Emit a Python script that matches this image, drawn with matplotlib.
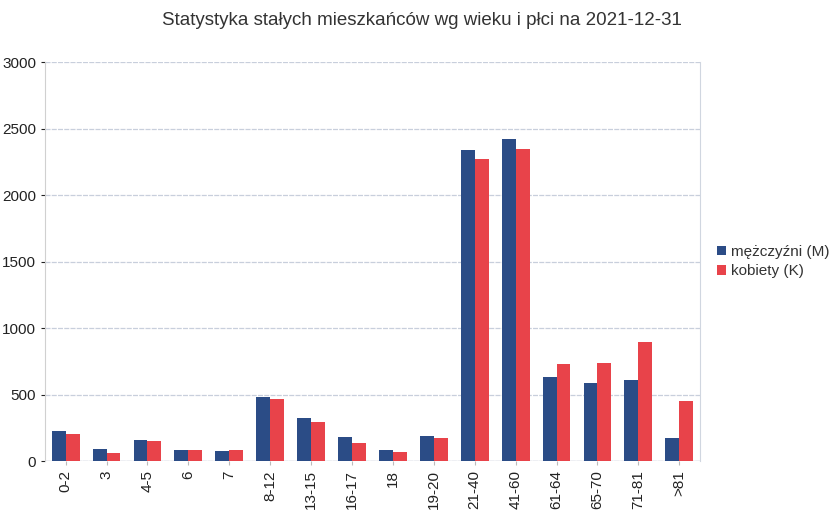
import matplotlib
matplotlib.use("Agg")
import matplotlib.pyplot as plt
import numpy as np

plt.rcParams['font.family'] = ['Liberation Sans', 'DejaVu Sans']

categories = ["0-2", "3", "4-5", "6", "7", "8-12", "13-15", "16-17", "18", "19-20",
              "21-40", "41-60", "61-64", "65-70", "71-81", ">81"]
men = [225, 95, 158, 85, 75, 480, 322, 180, 85, 188, 2340, 2420, 634, 589, 614, 175]
women = [205, 65, 150, 85, 85, 470, 292, 138, 72, 175, 2275, 2350, 730, 737, 893, 451]
series_names = ["mężczyźni (M)", "kobiety (K)"]
title = "Statystyka stałych mieszkańców wg wieku i płci na 2021-12-31"

fig = plt.figure(figsize=(8.36, 5.13), dpi=100)
ax = fig.add_axes([0.054, 0.101, 0.783, 0.778])

x = np.arange(len(categories))
w = 0.34
ax.bar(x - w/2, men, w, color='#2b4c86', label=series_names[0], zorder=3)
ax.bar(x + w/2, women, w, color='#e8434a', label=series_names[1], zorder=3)

ax.set_xlim(-0.5, len(categories) - 0.5)
ax.set_ylim(0, 3000)
ax.set_yticks(range(0, 3001, 500))
ax.set_xticks(x)
ax.set_xticklabels(categories, rotation=90, fontsize=11, color='#222222')
ax.tick_params(axis='y', labelsize=11, colors='#222222', length=3)
ax.tick_params(axis='x', length=3, colors='#bbbbbb', labelcolor='#222222')
ax.grid(axis='y', color='#c8cfdc', linewidth=0.9, linestyle=(0, (4, 1)), zorder=0)
for s in ['top', 'bottom']:
    ax.spines[s].set_visible(False)
ax.spines['left'].set_color('#d0d0d0')
ax.spines['right'].set_color('#d0d6e0')
ax.axhline(0, color='#b0b8c8', linewidth=0.9, zorder=2)

fig.text(0.505, 0.96, title, ha='center', va='center', fontsize=13.5, color='#333333')

leg = ax.legend(loc='center left', bbox_to_anchor=(1.005, 0.5), frameon=False,
                fontsize=11, handlelength=0.6, handleheight=0.6, handletextpad=0.3,
                labelspacing=0.35)
for t in leg.get_texts():
    t.set_color('#333333')

fig.savefig('out.png', dpi=100)
